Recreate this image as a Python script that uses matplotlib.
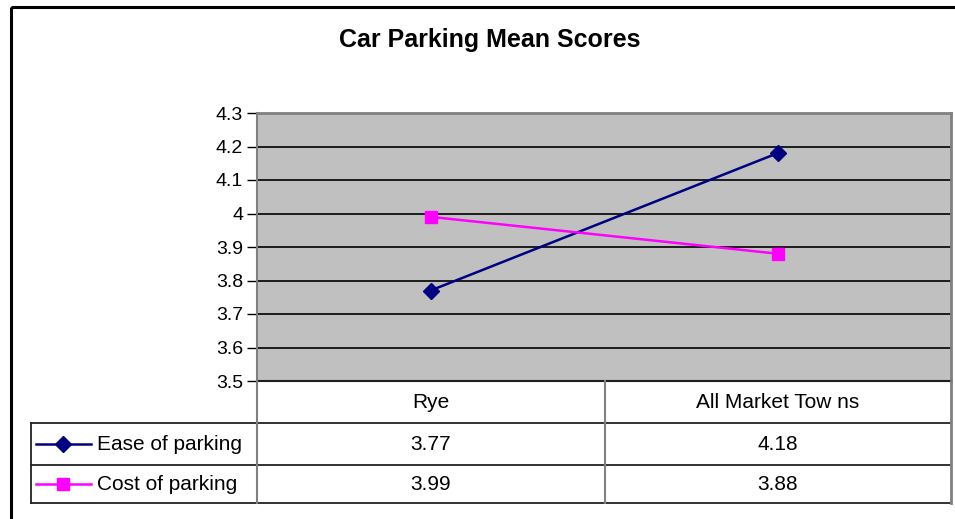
import matplotlib
matplotlib.use("Agg")
import matplotlib.pyplot as plt
from matplotlib.patches import Rectangle

plt.rcParams['font.family'] = ['Liberation Sans', 'DejaVu Sans']

categories = ["Rye", "All Market Tow ns"]
series_names = ["Ease of parking", "Cost of parking"]
ease = [3.77, 4.18]
cost = [3.99, 3.88]
colors = ["#000080", "#FF00FF"]
markers = ["D", "s"]
yticks = [3.5, 3.6, 3.7, 3.8, 3.9, 4.0, 4.1, 4.2, 4.3]
ytick_labels = ["3.5", "3.6", "3.7", "3.8", "3.9", "4", "4.1", "4.2", "4.3"]

W, H = 955, 519
fig = plt.figure(figsize=(W / 100, H / 100), dpi=100)

# pixel -> figure fraction
def fx(x):
    return x / W

def fy(y):
    return 1 - y / H

L, R, T, B = 257, 951, 113, 381
ax = fig.add_axes([fx(L), fy(B), fx(R) - fx(L), fy(T) - fy(B)])
ax.set_facecolor("#C0C0C0")
x = list(range(len(categories)))
for vals, c, m, name in zip([ease, cost], colors, markers, series_names):
    ax.plot(x, vals, color=c, marker=m, markersize=8, linewidth=1.8, label=name, zorder=3)
ax.set_xlim(-0.5, len(categories) - 0.5)
ax.set_ylim(3.5, 4.3)
ax.set_yticks(yticks)
ax.set_yticklabels(ytick_labels)
ax.yaxis.grid(True, color="black", linewidth=1.2)
ax.set_axisbelow(True)
ax.set_xticks([])
ax.tick_params(axis="y", direction="out", length=7, width=1, labelsize=14, pad=3)
for s in ["top", "right"]:
    ax.spines[s].set_color("#808080")
    ax.spines[s].set_linewidth(2)
ax.spines["left"].set_color("#808080")
ax.spines["left"].set_linewidth(1.5)
ax.spines["bottom"].set_color("black")
ax.spines["bottom"].set_linewidth(1.5)

# outer frame
ov = fig.add_axes([0, 0, 1, 1], zorder=-1)
ov.set_xlim(0, W)
ov.set_ylim(H, 0)
ov.axis("off")
ov.add_patch(Rectangle((11, 7), 960, 530, fill=False, edgecolor="black", linewidth=2.2))

# data table below the plot
top = fig.add_axes([0, 0, 1, 1], zorder=5)
top.set_xlim(0, W)
top.set_ylim(H, 0)
top.axis("off")
top.patch.set_alpha(0)

rows = [381, 423, 465, 503]
cols = [31, 257, 605, 951]
lk = dict(color="#222222", linewidth=1.3)
top.plot([cols[1], cols[3]], [rows[0], rows[0]], **lk)
for y in rows[1:]:
    top.plot([cols[0], cols[3]], [y, y], **lk)
top.plot([cols[0], cols[0]], [rows[1], rows[3]], **lk)
top.plot([cols[1], cols[1]], [rows[0], rows[3]], color="#808080", linewidth=1.5)
top.plot([cols[2], cols[2]], [rows[0], rows[3]], color="#808080", linewidth=1.5)
top.plot([cols[3], cols[3]], [rows[0], rows[3]], color="#808080", linewidth=2)

fs = 15
for j, cat in enumerate(categories):
    cx = (cols[j + 1] + cols[j + 2]) / 2
    top.text(cx, (rows[0] + rows[1]) / 2, cat, ha="center", va="center", fontsize=fs)
for i, (name, vals) in enumerate(zip(series_names, [ease, cost])):
    cy = (rows[i + 1] + rows[i + 2]) / 2
    top.plot([36, 91], [cy, cy], color=colors[i], linewidth=1.8)
    top.plot([63], [cy], color=colors[i], marker=markers[i], markersize=8)
    top.text(97, cy, name, ha="left", va="center", fontsize=fs)
    for j, v in enumerate(vals):
        cx = (cols[j + 1] + cols[j + 2]) / 2
        top.text(cx, cy, f"{v:.2f}", ha="center", va="center", fontsize=fs)

fig.text(fx(490), fy(40), "Car Parking Mean Scores", ha="center", va="center",
         fontsize=18, fontweight="bold")

fig.savefig("out.png", dpi=100)
